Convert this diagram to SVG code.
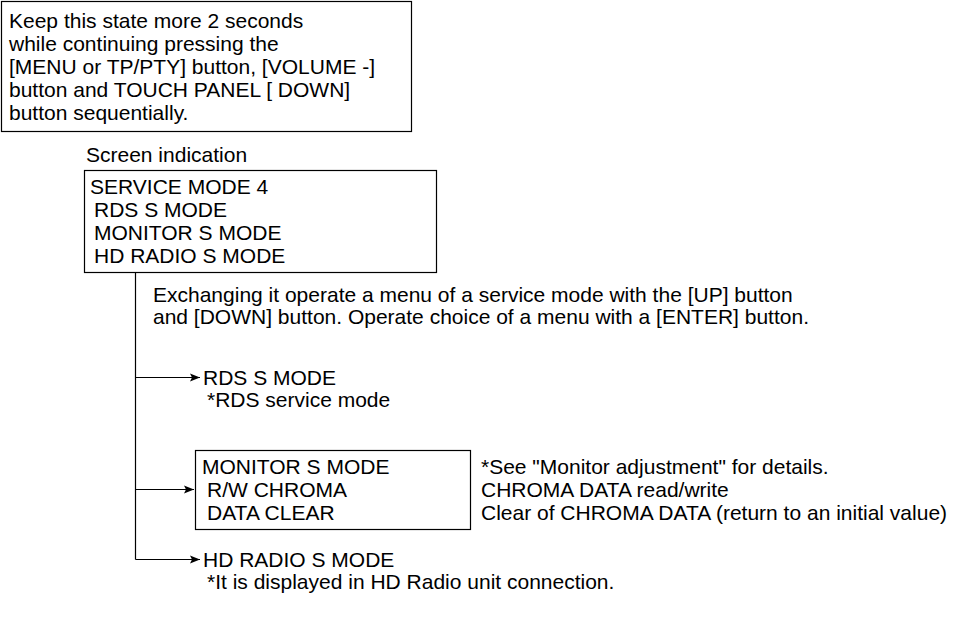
<svg xmlns="http://www.w3.org/2000/svg" width="957" height="627" viewBox="0 0 957 627">
<style>
.t{font-family:"Liberation Sans",Arial,sans-serif;font-size:21px;fill:#000}
.b{fill:#fff;stroke:#000;stroke-width:1.2}
.c{fill:none;stroke:#000;stroke-width:1.2}
</style>
<defs>
<marker id="ah" viewBox="0 0 10 10" refX="10" refY="5" markerWidth="10" markerHeight="10" markerUnits="userSpaceOnUse" orient="auto">
<path d="M0,1 L10,5 L0,9 L2,5 Z" fill="#000"/>
</marker>
</defs>
<rect width="957" height="627" fill="#fff"/>
<g id="note-top">
<rect class="b" x="1.5" y="1.5" width="410" height="130"/>
<text class="t" x="9" y="27.5">Keep this state more 2 seconds</text>
<text class="t" x="9" y="50.5">while continuing pressing the</text>
<text class="t" x="9" y="73.5">[MENU or TP/PTY] button, [VOLUME -]</text>
<text class="t" x="9" y="96.5">button and TOUCH PANEL [ DOWN]</text>
<text class="t" x="9" y="119.5">button sequentially.</text>
</g>
<g id="screen-label">
<text class="t" x="86" y="162">Screen indication</text>
</g>
<g id="service-mode-4">
<rect class="b" x="84.5" y="170.5" width="352" height="102"/>
<text class="t" x="90" y="194">SERVICE MODE 4</text>
<text class="t" x="94" y="217">RDS S MODE</text>
<text class="t" x="94" y="240">MONITOR S MODE</text>
<text class="t" x="94" y="263">HD RADIO S MODE</text>
</g>
<g id="instruction">
<text class="t" x="153" y="302">Exchanging it operate a menu of a service mode with the [UP] button</text>
<text class="t" x="153" y="324">and [DOWN] button. Operate choice of a menu with a [ENTER] button.</text>
</g>
<g id="connectors">
<path class="c" d="M135.5,272.5 V559.5"/>
<path class="c" d="M135.5,377.5 H200" marker-end="url(#ah)"/>
<path class="c" d="M135.5,489.5 H194" marker-end="url(#ah)"/>
<path class="c" d="M135.5,559.5 H200" marker-end="url(#ah)"/>
</g>
<g id="rds-s-mode">
<text class="t" x="203" y="385">RDS S MODE</text>
<text class="t" x="207" y="407">*RDS service mode</text>
</g>
<g id="monitor-s-mode">
<rect class="b" x="195.5" y="450.5" width="275" height="79"/>
<text class="t" x="202" y="474">MONITOR S MODE</text>
<text class="t" x="207" y="497">R/W CHROMA</text>
<text class="t" x="207" y="520">DATA CLEAR</text>
</g>
<g id="monitor-notes">
<text class="t" x="481" y="474">*See "Monitor adjustment" for details.</text>
<text class="t" x="481" y="497">CHROMA DATA read/write</text>
<text class="t" x="481" y="520">Clear of CHROMA DATA (return to an initial value)</text>
</g>
<g id="hd-radio-s-mode">
<text class="t" x="203" y="567">HD RADIO S MODE</text>
<text class="t" x="207" y="589">*It is displayed in HD Radio unit connection.</text>
</g>
</svg>
